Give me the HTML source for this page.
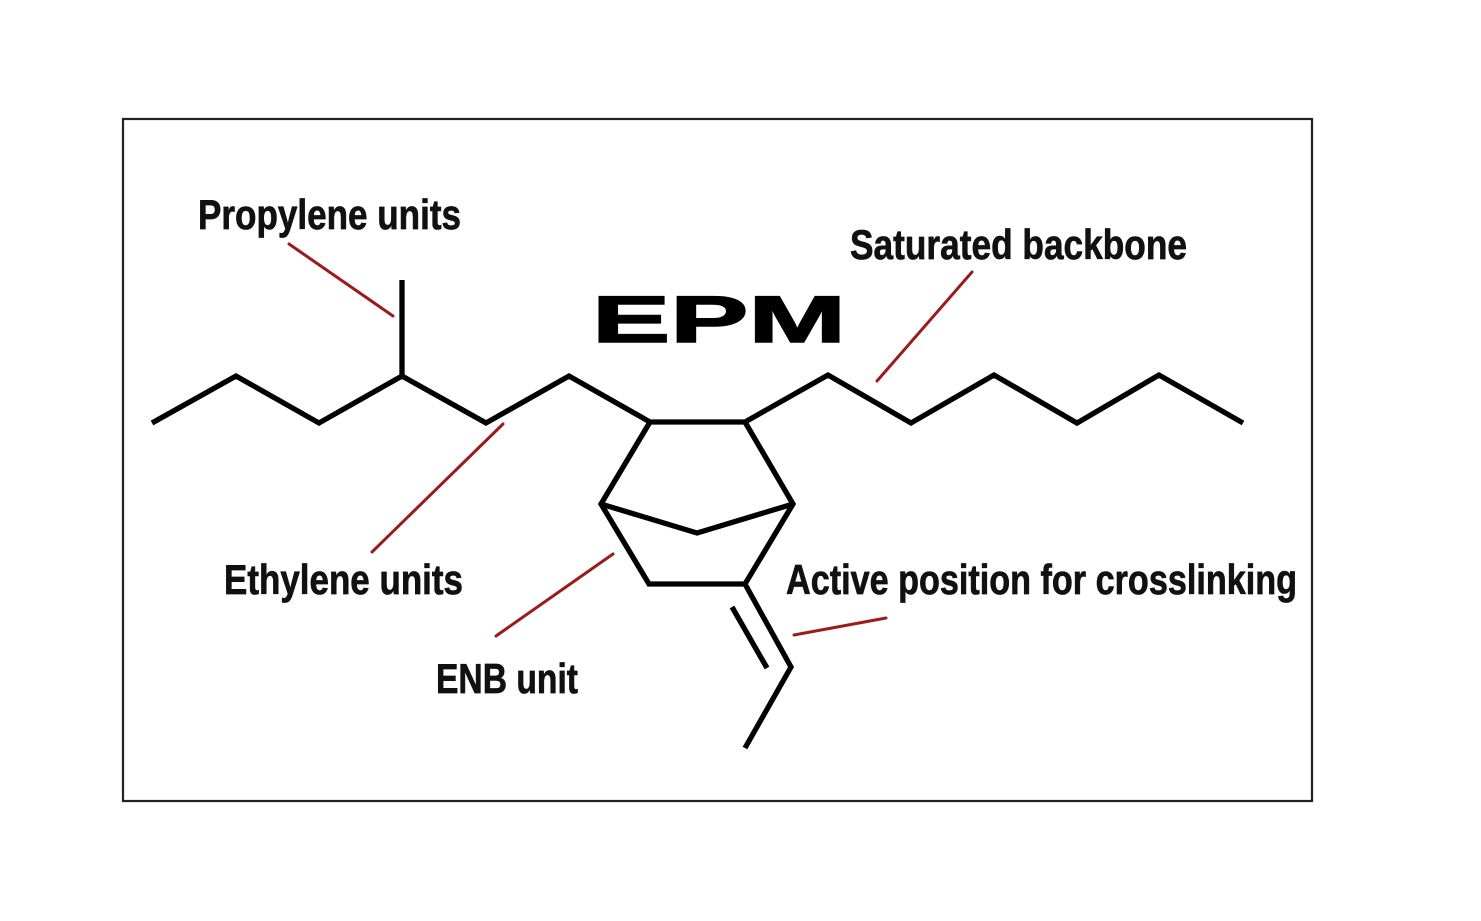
<!DOCTYPE html>
<html>
<head>
<meta charset="utf-8">
<style>
  html, body { margin: 0; padding: 0; background: #ffffff; }
  body { width: 1481px; height: 921px; overflow: hidden; }
  svg { display: block; }
  .lbl { font-family: "Liberation Sans Narrow", "Liberation Sans", sans-serif; font-weight: bold; font-size: 42px; fill: #111; stroke: #111; stroke-width: 0.7px; }
</style>
</head>
<body>
<svg width="1481" height="921" viewBox="0 0 1481 921" xmlns="http://www.w3.org/2000/svg">
  <rect x="0" y="0" width="1481" height="921" fill="#ffffff"/>
  <!-- frame -->
  <rect x="123" y="119" width="1189" height="682" fill="none" stroke="#222" stroke-width="2.2"/>

  <!-- molecule -->
  <g fill="none" stroke="#000" stroke-width="5.3" stroke-linejoin="miter" stroke-linecap="butt">
    <polyline points="152,423 236,376 319,423 402,376 486,423 569,376 650,422 745,422 828,375 911,423 994,375 1077,423 1159,375 1243,423"/>
    <line x1="402" y1="376" x2="402" y2="280"/>
    <polyline points="650,422 601,504 649,584 745,584 793,504 745,422"/>
    <polyline points="601,504 697,533 793,504"/>
    <polyline points="745,584 791,667 745,748"/>
    <line x1="732" y1="607" x2="767" y2="668"/>
  </g>

  <!-- red leader lines -->
  <g stroke="#9a1b1b" stroke-width="3" stroke-linecap="round">
    <line x1="289" y1="244" x2="393" y2="316"/>
    <line x1="972" y1="272" x2="877" y2="381"/>
    <line x1="503" y1="424" x2="372" y2="552"/>
    <line x1="613" y1="554" x2="496" y2="636"/>
    <line x1="794" y1="635" x2="886" y2="618"/>
  </g>

  <!-- EPM title -->
  <text x="592" y="342" font-family="Liberation Sans, sans-serif" font-weight="bold" font-size="66" fill="#000" stroke="#000" stroke-width="1.5" textLength="254" lengthAdjust="spacingAndGlyphs">EPM</text>

  <!-- labels -->
  <text class="lbl" x="198" y="229" textLength="263" lengthAdjust="spacingAndGlyphs">Propylene units</text>
  <text class="lbl" x="850" y="259" textLength="337" lengthAdjust="spacingAndGlyphs">Saturated backbone</text>
  <text class="lbl" x="224" y="594" textLength="239" lengthAdjust="spacingAndGlyphs">Ethylene units</text>
  <text class="lbl" x="786" y="594" textLength="511" lengthAdjust="spacingAndGlyphs">Active position for crosslinking</text>
  <text class="lbl" x="436" y="693" textLength="142" lengthAdjust="spacingAndGlyphs">ENB unit</text>
</svg>
</body>
</html>
